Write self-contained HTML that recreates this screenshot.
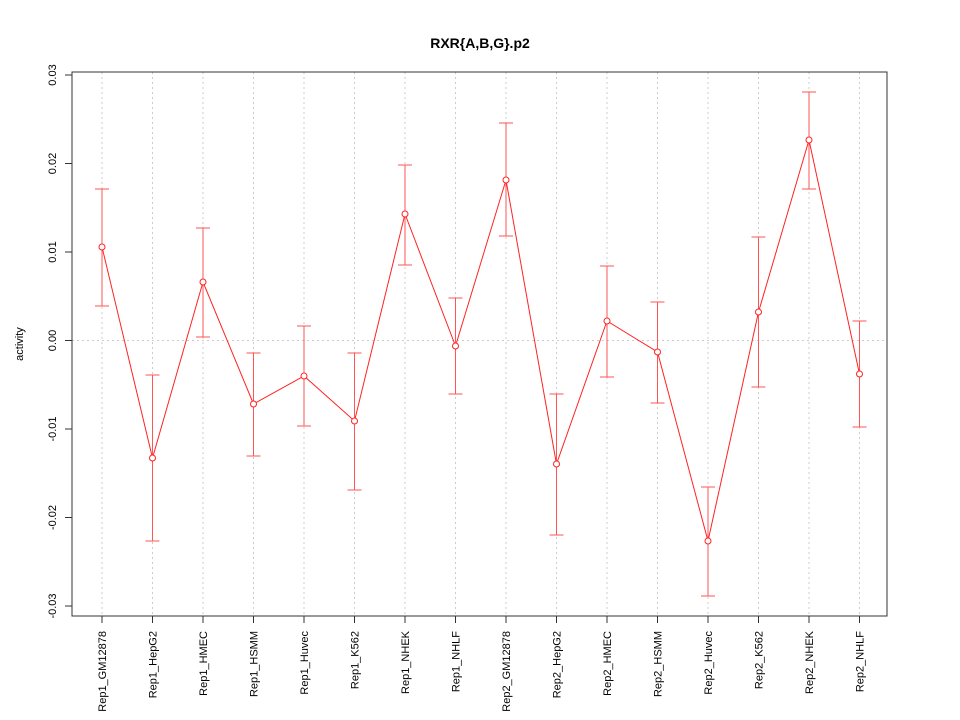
<!DOCTYPE html>
<html><head><meta charset="utf-8"><style>body{margin:0;background:#fff}svg{display:block}</style></head><body>
<svg width="960" height="720" xmlns="http://www.w3.org/2000/svg" font-family="Liberation Sans, sans-serif" font-size="12">
<rect width="960" height="720" fill="#fff"/>
<text x="480" y="48" text-anchor="middle" font-weight="bold" font-size="14">RXR{A,B,G}.p2</text>
<g stroke="#ccc" stroke-dasharray="2,3" stroke-width="1">
<line x1="72" y1="340.5" x2="887" y2="340.5"/>
<line x1="102" y1="72" x2="102" y2="616"/><line x1="152.5" y1="72" x2="152.5" y2="616"/><line x1="203" y1="72" x2="203" y2="616"/><line x1="253.5" y1="72" x2="253.5" y2="616"/><line x1="304" y1="72" x2="304" y2="616"/><line x1="354.5" y1="72" x2="354.5" y2="616"/><line x1="405" y1="72" x2="405" y2="616"/><line x1="455.5" y1="72" x2="455.5" y2="616"/><line x1="506" y1="72" x2="506" y2="616"/><line x1="556.5" y1="72" x2="556.5" y2="616"/><line x1="607" y1="72" x2="607" y2="616"/><line x1="657.5" y1="72" x2="657.5" y2="616"/><line x1="708" y1="72" x2="708" y2="616"/><line x1="758.5" y1="72" x2="758.5" y2="616"/><line x1="809" y1="72" x2="809" y2="616"/><line x1="859.5" y1="72" x2="859.5" y2="616"/>
</g>
<rect x="72" y="72" width="815" height="544" fill="none" stroke="#333" stroke-width="1"/>
<g stroke="#333">
<line x1="72" y1="75" x2="65" y2="75"/><line x1="72" y1="163.5" x2="65" y2="163.5"/><line x1="72" y1="252" x2="65" y2="252"/><line x1="72" y1="340.5" x2="65" y2="340.5"/><line x1="72" y1="429" x2="65" y2="429"/><line x1="72" y1="517.5" x2="65" y2="517.5"/><line x1="72" y1="606" x2="65" y2="606"/>
</g>
<g font-size="11" text-anchor="middle">
<text transform="translate(56,75) rotate(-90)">0.03</text>
<text transform="translate(56,163.5) rotate(-90)">0.02</text>
<text transform="translate(56,252) rotate(-90)">0.01</text>
<text transform="translate(56,340.5) rotate(-90)">0.00</text>
<text transform="translate(56,429) rotate(-90)">-0.01</text>
<text transform="translate(56,517.5) rotate(-90)">-0.02</text>
<text transform="translate(56,606) rotate(-90)">-0.03</text>
</g>
<text transform="translate(23,344) rotate(-90)" text-anchor="middle" font-size="11">activity</text>
<g stroke="#333">
<line x1="102" y1="616" x2="102" y2="623"/><line x1="152.5" y1="616" x2="152.5" y2="623"/><line x1="203" y1="616" x2="203" y2="623"/><line x1="253.5" y1="616" x2="253.5" y2="623"/><line x1="304" y1="616" x2="304" y2="623"/><line x1="354.5" y1="616" x2="354.5" y2="623"/><line x1="405" y1="616" x2="405" y2="623"/><line x1="455.5" y1="616" x2="455.5" y2="623"/><line x1="506" y1="616" x2="506" y2="623"/><line x1="556.5" y1="616" x2="556.5" y2="623"/><line x1="607" y1="616" x2="607" y2="623"/><line x1="657.5" y1="616" x2="657.5" y2="623"/><line x1="708" y1="616" x2="708" y2="623"/><line x1="758.5" y1="616" x2="758.5" y2="623"/><line x1="809" y1="616" x2="809" y2="623"/><line x1="859.5" y1="616" x2="859.5" y2="623"/>
</g>
<g font-size="11" text-anchor="end">
<text transform="translate(106,631) rotate(-90)">Rep1_GM12878</text>
<text transform="translate(156.5,631) rotate(-90)">Rep1_HepG2</text>
<text transform="translate(207,631) rotate(-90)">Rep1_HMEC</text>
<text transform="translate(257.5,631) rotate(-90)">Rep1_HSMM</text>
<text transform="translate(308,631) rotate(-90)">Rep1_Huvec</text>
<text transform="translate(358.5,631) rotate(-90)">Rep1_K562</text>
<text transform="translate(409,631) rotate(-90)">Rep1_NHEK</text>
<text transform="translate(459.5,631) rotate(-90)">Rep1_NHLF</text>
<text transform="translate(510,631) rotate(-90)">Rep2_GM12878</text>
<text transform="translate(560.5,631) rotate(-90)">Rep2_HepG2</text>
<text transform="translate(611,631) rotate(-90)">Rep2_HMEC</text>
<text transform="translate(661.5,631) rotate(-90)">Rep2_HSMM</text>
<text transform="translate(712,631) rotate(-90)">Rep2_Huvec</text>
<text transform="translate(762.5,631) rotate(-90)">Rep2_K562</text>
<text transform="translate(813,631) rotate(-90)">Rep2_NHEK</text>
<text transform="translate(863.5,631) rotate(-90)">Rep2_NHLF</text>
</g>
<g stroke="#f55" stroke-width="1" fill="none">
<path d="M102,189V306M95,189H109M95,306H109"/>
<path d="M152.5,375V541M145.5,375H159.5M145.5,541H159.5"/>
<path d="M203,228V337M196,228H210M196,337H210"/>
<path d="M253.5,353V456M246.5,353H260.5M246.5,456H260.5"/>
<path d="M304,326V426M297,326H311M297,426H311"/>
<path d="M354.5,353V490M347.5,353H361.5M347.5,490H361.5"/>
<path d="M405,165V265M398,165H412M398,265H412"/>
<path d="M455.5,298V394M448.5,298H462.5M448.5,394H462.5"/>
<path d="M506,123V236M499,123H513M499,236H513"/>
<path d="M556.5,394V535M549.5,394H563.5M549.5,535H563.5"/>
<path d="M607,266V377M600,266H614M600,377H614"/>
<path d="M657.5,302V403M650.5,302H664.5M650.5,403H664.5"/>
<path d="M708,487V596M701,487H715M701,596H715"/>
<path d="M758.5,237V387M751.5,237H765.5M751.5,387H765.5"/>
<path d="M809,92V189M802,92H816M802,189H816"/>
<path d="M859.5,321V427M852.5,321H866.5M852.5,427H866.5"/>
<polyline points="102,247 152.5,458 203,282 253.5,404 304,376 354.5,421 405,214 455.5,346 506,180 556.5,464 607,321 657.5,352 708,541 758.5,312 809,140 859.5,374" stroke="#f22"/>
</g>
<g stroke="#f22" fill="#fff">
<circle cx="102" cy="247" r="3"/><circle cx="152.5" cy="458" r="3"/><circle cx="203" cy="282" r="3"/><circle cx="253.5" cy="404" r="3"/><circle cx="304" cy="376" r="3"/><circle cx="354.5" cy="421" r="3"/><circle cx="405" cy="214" r="3"/><circle cx="455.5" cy="346" r="3"/><circle cx="506" cy="180" r="3"/><circle cx="556.5" cy="464" r="3"/><circle cx="607" cy="321" r="3"/><circle cx="657.5" cy="352" r="3"/><circle cx="708" cy="541" r="3"/><circle cx="758.5" cy="312" r="3"/><circle cx="809" cy="140" r="3"/><circle cx="859.5" cy="374" r="3"/>
</g>
</svg>
</body></html>
